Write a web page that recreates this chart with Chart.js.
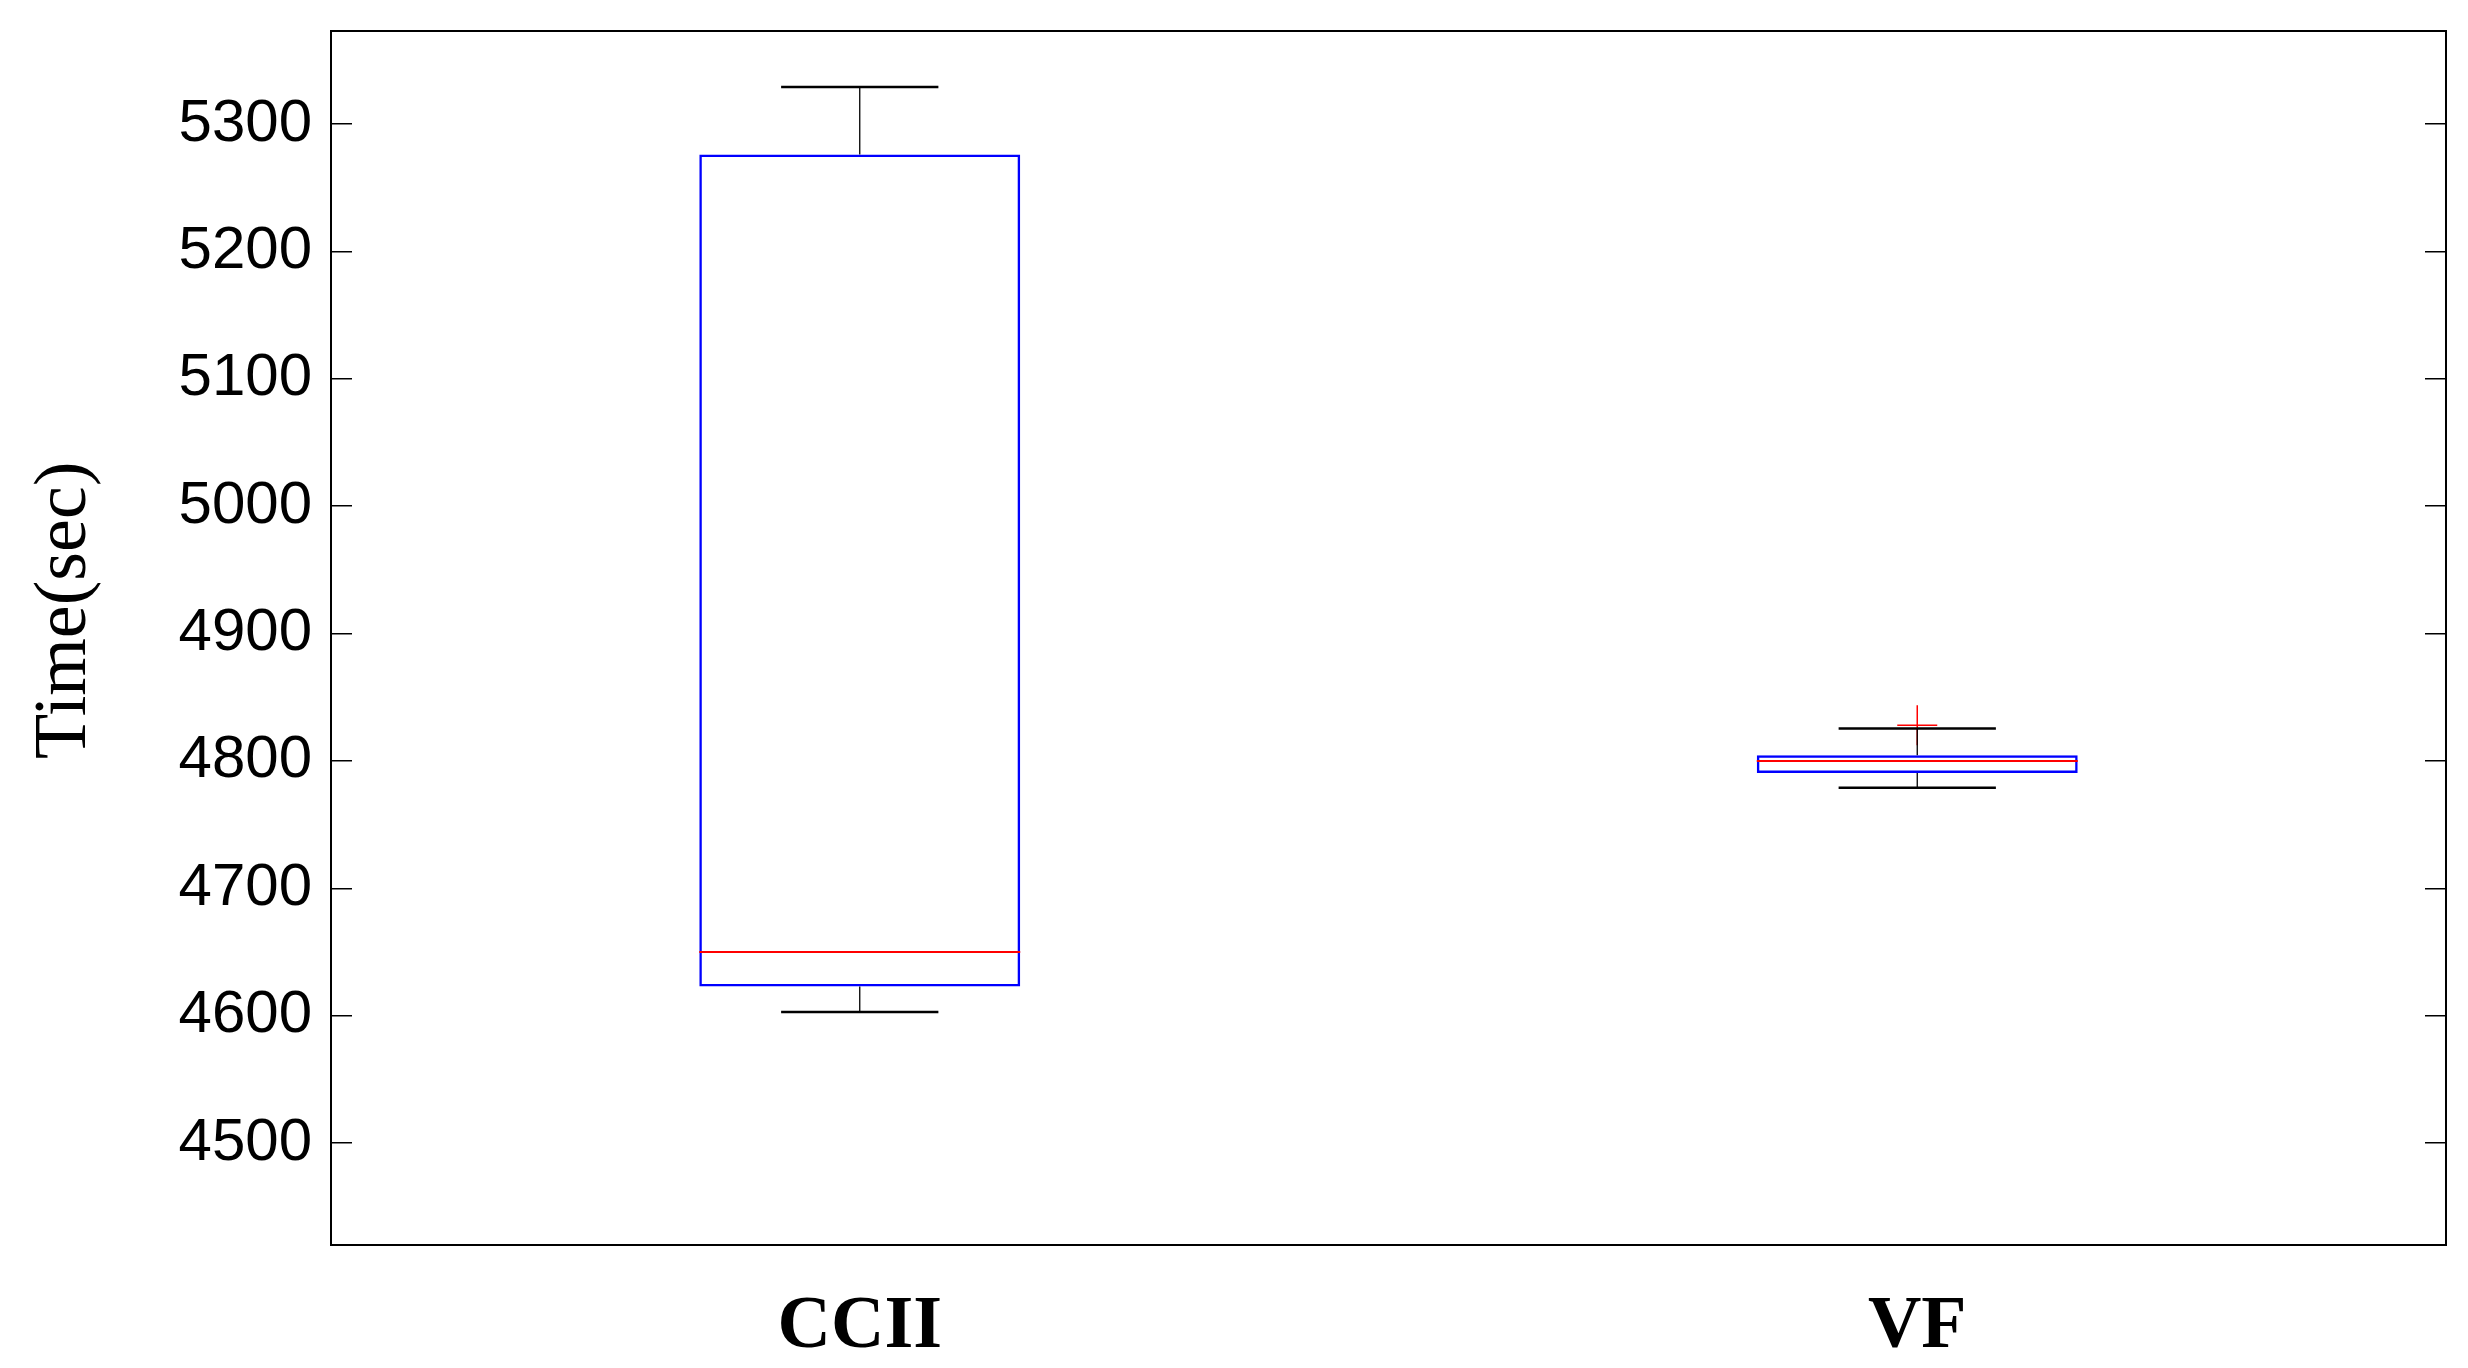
<!DOCTYPE html>
<html>
<head>
<meta charset="utf-8">
<script src="https://cdn.jsdelivr.net/npm/chart.js@4"></script>
<style>
    body { margin: 0; background: #fff; }
    #wrap { width: 2468px; height: 1368px; position: relative; }
</style>
</head>
<body>
<div id="wrap"><canvas id="myChart"></canvas></div>
<script>
/*               data               */

const categories = ['CCII', 'VF'];
const whiskerLow = [4603, 4779];
const q1 = [4623, 4790.5];
const median = [4650, 4800];
const q3 = [5276, 4804.5];
const whiskerHigh = [5329, 4825.5];
const outliers = [null, 4828];
const yTicks = [4500, 4600, 4700, 4800, 4900, 5000, 5100, 5200, 5300];

/*               whiskers, caps, medians and frame                */

const boxExtras = {
    id: 'boxExtras',
    afterDatasetsDraw(chart) {
        const ctx = chart.ctx;
        const y = chart.scales.y;
        const meta = chart.getDatasetMeta(0);
        ctx.save();
        meta.data.forEach(function (bar, i) {
            const cx = bar.x;
            const half = bar.width / 2;
            const cap = half * 0.49;
            // whisker stems
            ctx.strokeStyle = '#000';
            ctx.lineWidth = 1.3;
            ctx.beginPath();
            ctx.moveTo(cx, y.getPixelForValue(whiskerHigh[i]));
            ctx.lineTo(cx, y.getPixelForValue(q3[i]));
            ctx.moveTo(cx, y.getPixelForValue(q1[i]));
            ctx.lineTo(cx, y.getPixelForValue(whiskerLow[i]));
            ctx.stroke();
            // caps
            ctx.lineWidth = 2.5;
            ctx.beginPath();
            ctx.moveTo(cx - cap, y.getPixelForValue(whiskerHigh[i]));
            ctx.lineTo(cx + cap, y.getPixelForValue(whiskerHigh[i]));
            ctx.moveTo(cx - cap, y.getPixelForValue(whiskerLow[i]));
            ctx.lineTo(cx + cap, y.getPixelForValue(whiskerLow[i]));
            ctx.stroke();
            // median
            ctx.strokeStyle = '#ff0000';
            ctx.lineWidth = 2;
            ctx.beginPath();
            ctx.moveTo(cx - half, y.getPixelForValue(median[i]));
            ctx.lineTo(cx + half, y.getPixelForValue(median[i]));
            ctx.stroke();
        });
        ctx.restore();
    },
    afterDraw(chart) {
        const a = chart.chartArea;
        const ctx = chart.ctx;
        ctx.save();
        ctx.strokeStyle = '#000';
        ctx.lineWidth = 2;
        ctx.strokeRect(a.left, a.top, a.right - a.left, a.bottom - a.top);
        ctx.restore();
    }
};

// keep the axes from adding their own label padding around the plot
function noPad(s) {
    s.paddingTop = 0;
    s.paddingBottom = 0;
    s.paddingLeft = 0;
    s.paddingRight = 0;
}

let ctx = document.getElementById('myChart').getContext('2d');
let chart = new Chart(ctx, {
    type: 'bar',
    data: {
        labels: categories,
        datasets: [{
            // the boxes, q1 to q3
            data: categories.map((c, i) => [q1[i], q3[i]]),
            backgroundColor: 'rgba(0,0,0,0)',
            borderColor: '#0000ff',
            borderWidth: 2.5,
            borderSkipped: false,
            categoryPercentage: 1,
            barPercentage: 0.3035,
            grouped: false
        }, {
            type: 'line',
            data: outliers,
            showLine: false,
            pointStyle: 'cross',
            pointRadius: 20,
            borderColor: '#ff0000',
            borderWidth: 1.5
        }]
    },
    options: {
        responsive: true,
        maintainAspectRatio: false,
        animation: false,
        layout: { padding: { top: 31, right: 22, left: 0, bottom: 0 } },
        plugins: { legend: { display: false }, tooltip: { enabled: false } },
        scales: {
            x: {
                grid: { display: false },
                border: { display: false },
                ticks: {
                    color: '#000',
                    padding: 30,
                    font: { family: "'Liberation Serif', 'Times New Roman', serif", size: 74, weight: 'bold' }
                },
                afterFit(s) { s.height = 123; noPad(s); }
            },
            y: {
                min: 4420,
                max: 5373,
                border: { display: false },
                grid: { drawOnChartArea: false, drawTicks: true, tickLength: -21, color: '#000', lineWidth: 1.5 },
                afterBuildTicks(s) { s.ticks = yTicks.map(v => ({ value: v })); },
                ticks: {
                    color: '#000',
                    padding: 40,
                    callback: v => String(v),
                    font: { family: "'Liberation Sans', Arial, sans-serif", size: 60 }
                },
                title: {
                    display: true,
                    // leading spaces nudge the title up a little, as in the original
                    text: '   Time(sec)',
                    color: '#000',
                    padding: { top: 29, bottom: 0 },
                    font: { family: "'Liberation Serif', 'Times New Roman', serif", size: 74, lineHeight: 1 }
                },
                afterFit(s) { s.width = 331; noPad(s); }
            },
            y2: {
                position: 'right',
                min: 4420,
                max: 5373,
                border: { display: false },
                grid: { drawOnChartArea: false, drawTicks: true, tickLength: -21, color: '#000', lineWidth: 1.5 },
                afterBuildTicks(s) { s.ticks = yTicks.map(v => ({ value: v })); },
                ticks: { display: false },
                afterFit(s) { s.width = 0; noPad(s); }
            }
        }
    },
    plugins: [boxExtras]
});
</script>
</body>
</html>
